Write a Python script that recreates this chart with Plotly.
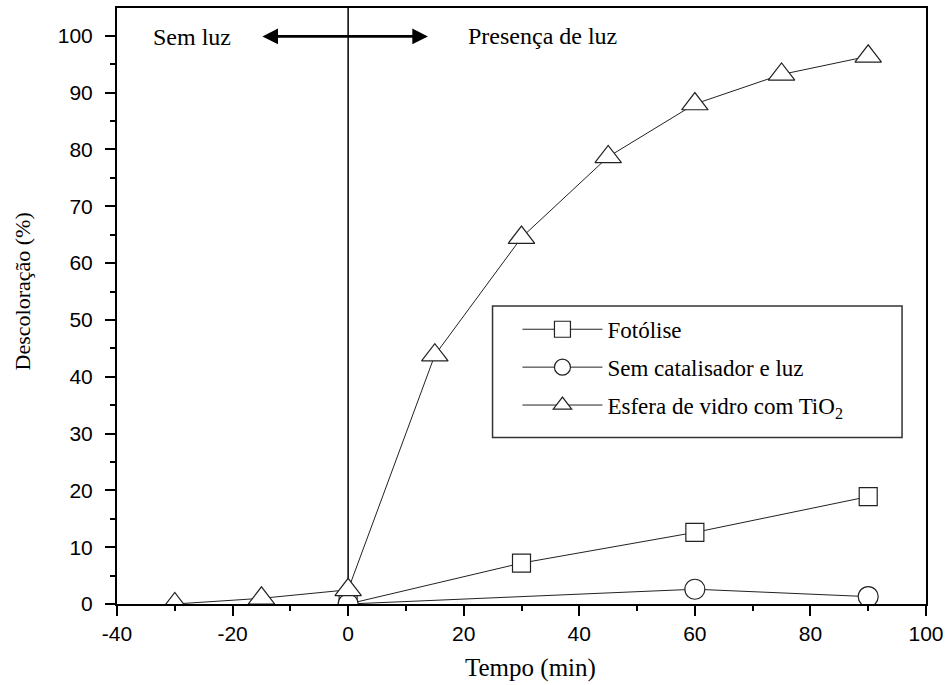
import plotly.graph_objects as go

# Data
t_tri = [-30, -15, 0, 15, 30, 45, 60, 75, 90]
v_tri = [0.0, 1.0, 2.5, 43.8, 64.5, 78.7, 88.0, 93.2, 96.4]
t_sq = [0, 30, 60, 90]
v_sq = [0.0, 7.2, 12.6, 18.9]
t_ci = [0, 60, 90]
v_ci = [0.0, 2.6, 1.3]

names = ["Fotólise", "Sem catalisador e luz", "Esfera de vidro com TiO<sub>2</sub>"]

x_ticks = [-40, -20, 0, 20, 40, 60, 80, 100]
y_ticks = [0, 10, 20, 30, 40, 50, 60, 70, 80, 90, 100]

serif = "Liberation Serif, Times New Roman, serif"
sans = "Liberation Sans, Arial, sans-serif"
ink = "#222222"

fig = go.Figure()
common_line = dict(color=ink, width=1)
fig.add_trace(go.Scatter(x=t_sq, y=v_sq, mode="lines+markers", name=names[0],
                         legendgroup="a", line=common_line,
                         marker=dict(symbol="square", size=18, color="white",
                                     line=dict(color=ink, width=1.2))))
fig.add_trace(go.Scatter(x=t_ci, y=v_ci, mode="lines+markers", name=names[1],
                         legendgroup="b", line=common_line,
                         marker=dict(symbol="circle", size=20, color="white",
                                     line=dict(color=ink, width=1.2))))
fig.add_trace(go.Scatter(x=t_tri, y=v_tri, mode="lines+markers", name=names[2],
                         legendgroup="c", line=common_line,
                         marker=dict(symbol="triangle-up", size=23, color="white",
                                     line=dict(color=ink, width=1.2))))

# vertical separator at t = 0
fig.add_shape(type="line", x0=0, x1=0, y0=0, y1=1, xref="x", yref="paper",
              line=dict(color="black", width=1.5), layer="below")

# legend frame
fig.add_shape(type="rect", xref="paper", yref="paper",
              x0=0.4642, x1=0.9704, y0=0.2793, y1=0.5,
              line=dict(color="#333333", width=1.5), fillcolor="white", layer="below")

# double arrow
fig.add_annotation(x=13.8, y=99.9, ax=-15.1, ay=99.9, xref="x", yref="y",
                   axref="x", ayref="y", text="", showarrow=True,
                   arrowhead=2, startarrowhead=2, arrowside="end+start",
                   arrowsize=1.2, startarrowsize=1.2, arrowwidth=2.6,
                   arrowcolor="black")
fig.add_annotation(x=-27.0, y=99.8, xref="x", yref="y", text="Sem luz",
                   showarrow=False, font=dict(family=serif, size=24, color="black"))
fig.add_annotation(x=33.6, y=100.0, xref="x", yref="y", text="Presença de luz",
                   showarrow=False, font=dict(family=serif, size=24, color="black"))

# axis titles
fig.add_annotation(x=0.511, y=-0.107, xref="paper", yref="paper", text="Tempo (min)",
                   showarrow=False, xanchor="center", yanchor="middle",
                   font=dict(family=serif, size=25, color="black"))
fig.add_annotation(x=-0.117, y=0.525, xref="paper", yref="paper", text="Descoloração (%)",
                   showarrow=False, textangle=-90, xanchor="center", yanchor="middle",
                   font=dict(family=serif, size=22, color="black"))

fig.update_layout(
    width=950, height=685,
    margin=dict(l=117, r=23, t=6, b=81),
    paper_bgcolor="white", plot_bgcolor="white",
    showlegend=True,
    legend=dict(x=0.495, y=0.497, xanchor="left", yanchor="top",
                borderwidth=0, bgcolor="rgba(0,0,0,0)",
                font=dict(family=serif, size=23, color="black"),
                itemwidth=80, tracegroupgap=5, traceorder="grouped"),
    font=dict(family=sans, color="black"),
)
fig.update_xaxes(range=[-40, 100], tickvals=x_ticks, ticktext=[str(v) for v in x_ticks],
                 showgrid=False, zeroline=False, showline=True, linecolor="black",
                 linewidth=2, mirror=True, ticks="outside", ticklen=10, tickwidth=2,
                 tickcolor="black", tickfont=dict(family=sans, size=21, color="black"),
                 minor=dict(dtick=10, ticks="outside", ticklen=5, tickwidth=2,
                            tickcolor="black", tick0=0))
fig.update_yaxes(range=[0, 104.9], tickvals=y_ticks, ticktext=[str(v) for v in y_ticks],
                 showgrid=False, zeroline=False, showline=True, linecolor="black",
                 linewidth=2, mirror=True, ticks="outside", ticklen=10, tickwidth=2,
                 tickcolor="black", tickfont=dict(family=sans, size=21, color="black"),
                 ticklabelstandoff=8,
                 minor=dict(dtick=5, ticks="outside", ticklen=5, tickwidth=2,
                            tickcolor="black", tick0=0))

fig.write_html("out.html")
